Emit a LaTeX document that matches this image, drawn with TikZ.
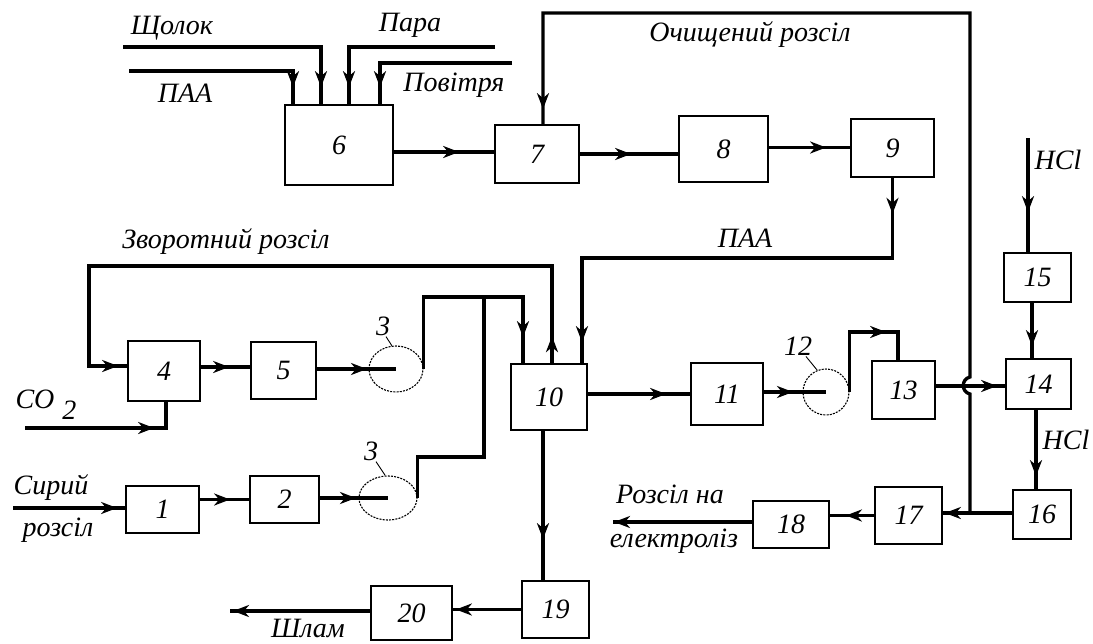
\documentclass[tikz,border=0pt]{standalone}
\usepackage{fontspec}
\setmainfont{Liberation Serif}
\usetikzlibrary{calc,arrows.meta,decorations.markings,shapes.geometric}
\tikzset{
  procbox/.style={draw, line width=1.7pt, inner sep=0pt, fill=white},
  pump/.style={draw, ellipse, dash pattern=on 2pt off 1.2pt, line width=1.1pt, inner sep=0pt},
  flow/.style={line width=3.3pt},
  arr/.style={postaction={decorate, decoration={markings,
      mark=at position #1 with {\arrow{Stealth[length=16pt,width=12pt,inset=5pt]}}}}},
  lbl/.style={inner sep=1pt},
  leader/.style={line width=0.9pt}
}
\newcommand{\bx}[6]{\node[procbox, minimum width=#4pt, minimum height=#5pt] (#1) at (#2,#3) {#6};}
\begin{document}
\begin{tikzpicture}[x=1pt,y=-1pt, font=\itshape\fontsize{28}{32}\selectfont]
\useasboundingbox (0,0) rectangle (1093,643);
% boxes
\bx{b1}{162.5}{509.5}{73}{47}{1}
\bx{b2}{284.5}{499.5}{69}{47}{2}
\bx{b4}{164}{371}{72}{60}{4}
\bx{b5}{283.5}{370.5}{65}{57}{5}
\bx{b6}{339}{145}{108}{80}{6}
\bx{b7}{537}{154}{84}{58}{7}
\bx{b8}{723.5}{149}{89}{66}{8}
\bx{b9}{892.5}{148}{83}{58}{9}
\bx{b10}{549}{397}{76}{66}{10}
\bx{b11}{727}{394}{72}{62}{11}
\bx{b13}{903.5}{390}{63}{58}{13}
\bx{b14}{1038.5}{384}{65}{50}{14}
\bx{b15}{1037.5}{277.5}{67}{49}{15}
\bx{b16}{1042}{514.5}{58}{49}{16}
\bx{b17}{908.5}{515.5}{67}{57}{17}
\bx{b18}{791}{524.5}{76}{47}{18}
\bx{b19}{555.5}{609.5}{67}{57}{19}
\bx{b20}{411.5}{613}{81}{54}{20}
% pumps
\node[pump, minimum width=54pt, minimum height=46pt] (p3a) at (396,369) {};
\node[pump, minimum width=58pt, minimum height=44pt] (p3b) at (388,498) {};
\node[pump, minimum width=46pt, minimum height=46pt] (p12) at (826,392) {};
\node[lbl] (l3a) at (383,326) {3};
\node[lbl] (l3b) at (371,451) {3};
\node[lbl] (l12) at (798,346) {12};
\draw[leader] ($(l3a.south)+(3,0)$) -- (p3a.100);
\draw[leader] ($(l3b.south)+(5,0)$) -- (p3b.97);
\draw[leader] ($(l12.south)+(8,0)$) -- (p12.112);
% free ends and junctions
\coordinate (shch) at (123,47);
\coordinate (para) at (495,47);
\coordinate (paa) at (129,71);
\coordinate (povi) at (512,63);
\coordinate (jr) at (970,513);
\coordinate (j1) at (484,297);
\coordinate (j2) at (484,457);
\coordinate (co2in) at (25,428);
\coordinate (rawin) at (13,508);
\coordinate (hclin) at (1028,138);
\coordinate (elout) at (613,522);
\coordinate (shout) at (230,611);
% inputs to 6
\draw[flow, arr=-17pt] (shch) -| ($(b6.north)+(-18,0)$);
\draw[flow, arr=-17pt] (para) -| ($(b6.north)+(10,0)$);
\draw[flow, arr=-17pt] (paa) -| ($(b6.north)+(-46,0)$);
\draw[flow, arr=-17pt] (povi) -| ($(b6.north)+(41,0)$);
% 6 -> 7 -> 8 -> 9
\coordinate (c67) at ($(b6.east)+(0,7)$);
\draw[flow, arr=-35pt] (c67) -- (b7.west |- c67);
\draw[flow, arr=-47pt] (b7.east) -- (b8.west |- b7.east);
\coordinate (c89) at ($(b8.east)+(0,-1.5)$);
\draw[flow, arr=-24pt] (c89) -- (b9.west |- c89);
% recycle line (Очищений розсіл) with hop
\draw[flow, arr=-15pt] (jr) -- (970,394) .. controls (961,392) and (961,379) .. (970,377) -- (970,13) -| ($(b7.north)+(6,0)$);
% 9 -> 10 (ПАА)
\draw[flow, arr=36pt, arr=-21pt] (b9.south) -- ++(0,80) -| ($(b10.north)+(33,0)$);
% pumps -> 10
\draw[flow, arr=-26pt] (p3a.east) |- (j1) -| ($(b10.north)+(-26,0)$);
\draw[flow] (p3b.east) |- (j2) -- (j1);
% 10 -> 4 (Зворотний розсіл)
\draw[flow, arr=27pt, arr=-9pt] ($(b10.north)+(3,0)$) -- (552,266) -| (89,366) -- ($(b4.west)+(0,-5)$);
% CO2
\draw[flow, arr=-38pt] (co2in) -| ($(b4.south)+(2,0)$);
% 4 -> 5 -> pump
\draw[flow, arr=-21pt] ($(b4.east)+(0,-4)$) -- ($(b5.west)+(0,-3.5)$);
\draw[flow, arr=-29pt] (b5.east |- p3a.center) -- (p3a.center);
% raw solution -> 1 -> 2 -> pump
\draw[flow, arr=-8pt] (rawin) -- (b1.west |- rawin);
\draw[flow, arr=-19pt] (b1.east |- b2.west) -- (b2.west);
\draw[flow, arr=-32pt] (b2.east |- p3b.center) -- (p3b.center);
% 10 -> 11 -> 12 -> 13 -> 14
\draw[flow, arr=-24pt] (b10.east |- b11.west) -- (b11.west);
\draw[flow, arr=-33pt] (b11.east |- p12.center) -- (p12.center);
\draw[flow, arr=-40pt] (p12.east) -- ++(0,-60) -| ($(b13.north)+(-5.5,0)$);
\coordinate (c1314) at ($(b13.east)+(0,-4)$);
\draw[flow, arr=-8pt] (c1314) -- (b14.west |- c1314);
% HCl -> 15 -> 14 -> 16
\draw[flow, arr=-40pt] (hclin) -- (b15.north -| hclin);
\draw[flow, arr=-12pt] ($(b15.south)+(-5.5,0)$) -- ($(b14.north)+(-6.5,0)$);
\coordinate (c1416) at ($(b14.south)+(-2.5,0)$);
\draw[flow, arr=-13pt] (c1416) -- (b16.north -| c1416);
% 16 -> 17 -> 18 -> out
\draw[flow, arr=-2pt] ($(b16.west)+(0,-1.5)$) -- (b17.east |- jr);
\draw[flow, arr=-16pt] (b17.west) -- (b18.east |- b17.west);
\draw[flow, arr=-1pt] ($(b18.west)+(0,-2.5)$) -- (elout);
% 10 -> 19 -> 20 -> out
\coordinate (c1019) at ($(b10.south)+(-6,0)$);
\draw[flow, arr=-41pt] (c1019) -- (b19.north -| c1019);
\draw[flow, arr=-3pt] (b19.west) -- (b20.east |- b19.west);
\draw[flow, arr=-3pt] (b20.west |- shout) -- (shout);
% labels
\node[lbl] (tshch) at (172,28) {Щолок};
\node[lbl] (tpara) at (410,25) {Пара};
\node[lbl] (tpaa) at (185,93) {ПАА};
\node[lbl] (tpovi) at (454,85) {Повітря};
\node[lbl] (tochy) at (750,35) {Очищений розсіл};
\node[lbl] (tzvor) at (226,242) {Зворотний розсіл};
\node[lbl] (tpaa2) at (745,238) {ПАА};
\node[lbl] (thcl1) at (1058,160) {HCl};
\node[lbl] (thcl2) at (1066,440) {HCl};
\node[lbl] (tco2) at (46,405) {CO\hspace{8pt}\raisebox{-11pt}{2}};
\node[lbl] (tsyr) at (51,488) {Сирий};
\node[lbl] (troz) at (58,530) {розсіл};
\node[lbl] (trn) at (670,494) {Розсіл на};
\node[lbl] (tel) at (674,541) {електроліз};
\node[lbl, anchor=base] (tshl) at (308,637) {Шлам};
\end{tikzpicture}
\end{document}
